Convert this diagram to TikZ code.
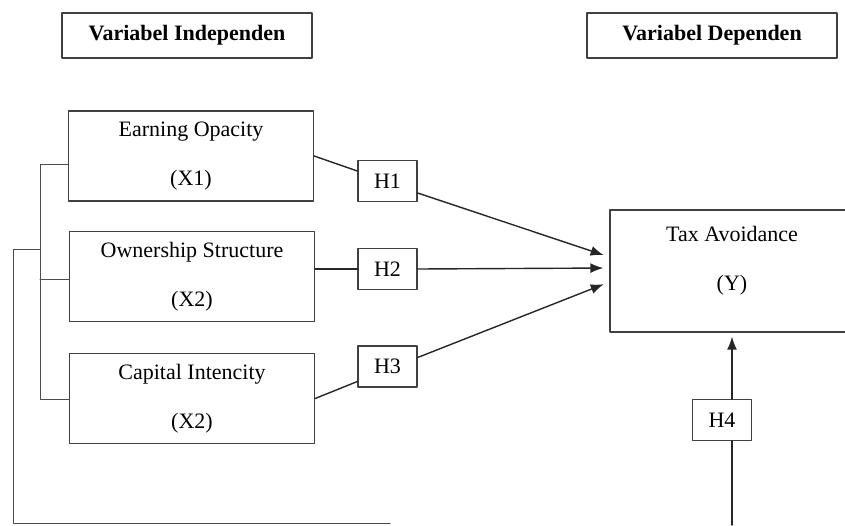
\documentclass[tikz,border=0pt]{standalone}
\usepackage{fontspec}
\setmainfont{Liberation Serif}
\usetikzlibrary{arrows.meta}
\begin{document}
\begin{tikzpicture}[x=1pt,y=-1pt,line join=round,line cap=round,>={Latex[length=13pt,width=10pt]},font=\fontsize{22}{26}\selectfont]
\tikzset{every node/.style={inner sep=0pt,align=center},
  box/.style={draw=black!75,line width=1.3pt,rectangle},
  head/.style={box,minimum width=250pt,minimum height=45pt,font=\fontsize{22}{26}\selectfont\bfseries},
  var/.style={box,minimum width=245pt,minimum height=90pt},
  hyp/.style={box,minimum width=59pt,minimum height=41pt},
  conn/.style={draw=black!85,line width=1.4pt},
  brace/.style={draw=black!70,line width=1pt}}
\useasboundingbox (0,0) rectangle (845,525);
\clip (0,0) rectangle (845,525);
\node[head] (indep) at (187,35.5) {Variabel Independen};
\node[head] (dep) at (712,35.5) {Variabel Dependen};
\node[var] (eo) at (191,156) {Earning Opacity\\[23pt](X1)};
\node[var] (os) at (192,276.5) {Ownership Structure\\[23pt](X2)};
\node[var] (ci) at (192,398.5) {Capital Intencity\\[23pt](X2)};
\node[box,minimum width=244pt,minimum height=122pt] (ta) at (732,271) {};
\node (tatext) at (732,261) {Tax Avoidance\\[23pt](Y)};
\node[hyp] (h1) at (387.5,181) {H1};
\node[hyp] (h2) at (387.5,269) {H2};
\node[hyp] (h3) at (387.5,366.5) {H3};
\node[hyp] (h4) at (722,420) {H4};
\draw[conn] (eo.east) -- ([yshift=10pt]h1.west);
\draw[conn,->,shorten >=6pt] ([yshift=-12pt]h1.east) -- ([yshift=14pt]ta.west);
\draw[conn] (h2.west -| os.east) -- (h2.west);
\draw[conn,->,shorten >=6pt] (h2.east) -- ([yshift=3pt]ta.west);
\draw[conn] (ci.east) -- ([yshift=-15pt]h3.west);
\draw[conn,->,shorten >=6pt] ([yshift=9pt]h3.east) -- ([yshift=-11pt]ta.west);
\draw[conn,->,shorten >=4pt] (h4.north -| ta.south) -- (ta.south);
\coordinate (foot) at (732,525);
\draw[conn] (h4.south -| ta.south) -- (foot);
\coordinate (b1) at (40,164);
\coordinate (b2) at (40,279);
\coordinate (b3) at (40,399);
\coordinate (b0) at (40,249);
\coordinate (c1) at (13,249);
\coordinate (c2) at (13,523);
\coordinate (c3) at (390,523);
\draw[brace] (b1 -| eo.west) -- (b1) -- (b3) -- (b3 -| ci.west);
\draw[brace] (b2) -- (b2 -| os.west);
\draw[brace] (b0) -- (c1) -- (c2) -- (c3);
\end{tikzpicture}
\end{document}
